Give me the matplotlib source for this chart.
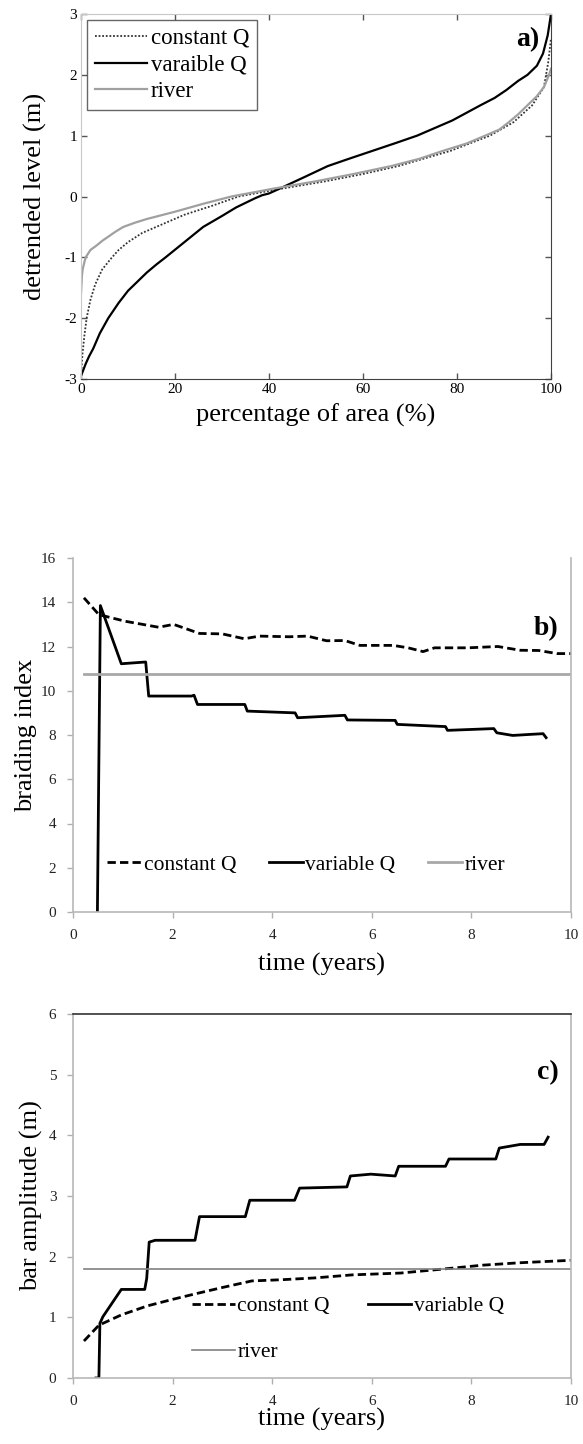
import numpy as np
import matplotlib
matplotlib.use("Agg")
import matplotlib.pyplot as plt

plt.rcParams['font.family'] = ['Liberation Serif', 'DejaVu Serif']
plt.rcParams['axes.unicode_minus'] = False

# a) hypsometric curves: percentage of area vs detrended level
pct_const = [0, 0.3, 0.7, 1.2, 2, 3, 4.5, 6.6, 8, 10, 13, 16, 22, 28, 33.5, 42, 52, 60, 67.5, 78.6, 87, 92, 96, 98.5, 99.4, 100]
lev_const = [-2.95, -2.6, -2.3, -2.0, -1.7, -1.45, -1.2, -1.0, -0.88, -0.75, -0.6, -0.5, -0.3, -0.15, 0.0, 0.12, 0.25, 0.37, 0.5, 0.75, 1.0, 1.22, 1.5, 1.8, 2.2, 2.6]

pct_var = [0, 0.5, 1, 1.7, 2.6, 4, 5.8, 8, 10, 12, 14, 16, 18, 22, 26, 30, 33, 37, 38.5, 40, 42, 47, 52.5, 57,
           62, 67, 71.5, 79, 85, 88, 90.5, 93, 95, 97, 98.3, 99.3, 100]
lev_var = [-2.95, -2.85, -2.75, -2.63, -2.5, -2.25, -2.0, -1.75, -1.55, -1.4, -1.25, -1.12, -1.0, -0.75, -0.5, -0.32,
           -0.18, -0.03, 0.02, 0.05, 0.12, 0.3, 0.5, 0.62, 0.75, 0.88, 1.0, 1.25, 1.5, 1.62, 1.75, 1.9, 2.0, 2.15, 2.35, 2.65, 3.0]

pct_river = [0, 0.1, 0.2, 0.35, 0.5, 0.75, 1.0, 1.5, 2, 2.7, 3.4, 4.5, 6, 7.5, 9, 11.5, 14, 17, 20, 26, 32, 41, 50, 58,
             66, 72, 77, 82, 86, 89, 91, 93, 95, 97, 98.5, 99.6, 100]
lev_river = [-1.6, -1.45, -1.3, -1.2, -1.15, -1.07, -1.0, -0.94, -0.88, -0.84, -0.8, -0.73, -0.65, -0.57, -0.5, -0.43, -0.37,
             -0.31, -0.25, -0.12, 0.0, 0.13, 0.25, 0.37, 0.5, 0.62, 0.75, 0.87, 1.0, 1.1, 1.22, 1.35, 1.5, 1.65, 1.8, 2.0, 2.1]

# b) braiding index over time
t_bi_const = [0.22, 0.52, 1.05, 1.72, 2.02, 2.54, 3.0, 3.44, 3.74, 4.34, 4.71, 5.09, 5.46, 5.76,
              6.43, 6.73, 7.03, 7.26, 7.93, 8.53, 8.98, 9.35, 9.72, 10.0]
bi_const = [14.2, 13.44, 13.14, 12.87, 13.0, 12.59, 12.57, 12.35, 12.47, 12.44, 12.47, 12.26, 12.27, 12.05,
            12.05, 11.94, 11.77, 11.94, 11.94, 12.0, 11.83, 11.82, 11.68, 11.68]

t_bi_var = [0.49, 0.55, 0.97, 1.46, 1.52, 2.38, 2.43, 2.5, 3.45, 3.5, 4.46, 4.51, 5.46, 5.51,
            6.47, 6.51, 7.48, 7.52, 8.45, 8.51, 8.83, 9.2, 9.44, 9.5]
bi_var = [0.0, 13.85, 11.22, 11.3, 9.76, 9.76, 9.8, 9.38, 9.38, 9.08, 9.0, 8.78, 8.89, 8.68,
          8.66, 8.48, 8.38, 8.21, 8.29, 8.1, 7.98, 8.03, 8.06, 7.88]

t_river_b = [0.22, 10.0]
bi_river = [10.74, 10.74]

# c) bar amplitude over time
t_ba_const = [0.22, 0.52, 0.97, 1.5, 2.02, 2.47, 2.99, 3.59, 4.19, 4.86, 5.61, 6.58, 7.48, 8.23, 8.98, 10.0]
ba_const = [0.61, 0.87, 1.04, 1.19, 1.3, 1.39, 1.49, 1.6, 1.62, 1.65, 1.7, 1.73, 1.8, 1.86, 1.9, 1.94]

t_ba_var = [0.46, 0.52, 0.54, 0.6, 0.97, 1.44, 1.48, 1.53, 1.65, 2.45, 2.54, 3.46, 3.55, 4.45, 4.55,
            5.5, 5.57, 5.98, 6.47, 6.54, 7.48, 7.55, 8.49, 8.56, 8.98, 9.46, 9.54]
ba_var = [0.0, 0.0, 0.9, 1.01, 1.46, 1.46, 1.64, 2.24, 2.27, 2.27, 2.66, 2.66, 2.93, 2.93, 3.13,
          3.15, 3.33, 3.36, 3.33, 3.49, 3.49, 3.61, 3.61, 3.79, 3.85, 3.85, 3.97]

t_river_c = [0.22, 10.0]
ba_river = [1.80, 1.80]

W, H = 583, 1444
fig = plt.figure(figsize=(W / 100, H / 100), dpi=100)


def box(l, r, t, b):
    # pixel edges -> figure fraction rect
    return [l / W, 1 - b / H, (r - l) / W, (b - t) / H]


# ---------- panel a ----------
ax = fig.add_axes(box(81, 551, 14, 379))
ax.plot(pct_const, lev_const, color='#333333', lw=1.3, ls=(0, (1, 1)), label='constant Q')
ax.plot(pct_var, lev_var, color='black', lw=1.6, label='varaible Q')
ax.plot(pct_river, lev_river, color='#a0a0a0', lw=1.6, label='river')
ax.set_xlim(0, 100)
ax.set_ylim(-3, 3)
ax.set_xticks([0, 20, 40, 60, 80, 100])
ax.set_yticks([-3, -2, -1, 0, 1, 2, 3])
ax.tick_params(direction='in', top=True, right=True, length=4, width=1, colors='#555555',
               labelcolor='black', labelsize=11, pad=3)
for s in ['top', 'left']:
    ax.spines[s].set_color('#c8c8c8')
for s in ['bottom', 'right']:
    ax.spines[s].set_color('#404040')
ax.set_xlabel('percentage of area (%)', fontsize=19, labelpad=5)
ax.set_ylabel('detrended level (m)', fontsize=19, labelpad=12)
leg = ax.legend(loc='upper left', fontsize=16.5, frameon=True, fancybox=False, handlelength=2.3,
                handletextpad=0.15, borderpad=0.35, labelspacing=0.25, borderaxespad=0.25)
leg.get_frame().set_edgecolor('#404040')
leg.get_frame().set_linewidth(1)
ax.text(0.975, 0.93, 'a)', transform=ax.transAxes, ha='right', va='center',
        fontsize=20, fontweight='bold')


def excel_axes(ax, top_spine):
    ax.set_xlim(0, 10)
    ax.set_xticks([0, 2, 4, 6, 8, 10])
    ax.tick_params(direction='out', length=4, width=1, colors='#b0b0b0',
                   labelcolor='#222222', labelsize=11, pad=8)
    for s in ['left', 'right', 'bottom']:
        ax.spines[s].set_color('#b8b8b8')
        ax.spines[s].set_linewidth(1.2)
    if top_spine:
        ax.spines['top'].set_color('#333333')
        ax.spines['top'].set_linewidth(1.2)
    else:
        ax.spines['top'].set_visible(False)


# ---------- panel b ----------
ax = fig.add_axes(box(73, 571, 558, 912))
ax.plot(t_bi_const, bi_const, color='black', lw=2, ls=(0, (3, 1.5)), label='constant Q')
ax.plot(t_bi_var, bi_var, color='black', lw=2, label='variable Q')
ax.plot(t_river_b, bi_river, color='#a8a8a8', lw=2, label='river')
ax.set_ylim(0, 16)
ax.set_yticks(range(0, 17, 2))
excel_axes(ax, top_spine=False)
ax.set_xlabel('time (years)', fontsize=19, labelpad=8)
ax.set_ylabel('braiding index', fontsize=19, labelpad=3)
ax.legend(loc='lower left', bbox_to_anchor=(0.03, 0.05), ncol=3, fontsize=15.5, frameon=False,
          handlelength=1.6, handletextpad=0.1, columnspacing=1.5)
ax.text(0.975, 0.80, 'b)', transform=ax.transAxes, ha='right', va='center',
        fontsize=20, fontweight='bold')

# ---------- panel c ----------
ax = fig.add_axes(box(73, 571, 1014, 1378))
h_const, = ax.plot(t_ba_const, ba_const, color='black', lw=2, ls=(0, (3, 1.5)), label='constant Q')
h_var, = ax.plot(t_ba_var, ba_var, color='black', lw=2, label='variable Q')
h_river, = ax.plot(t_river_c, ba_river, color='#808080', lw=1.2, label='river')
ax.set_ylim(0, 6)
ax.set_yticks(range(0, 7))
excel_axes(ax, top_spine=True)
ax.set_xlabel('time (years)', fontsize=19, labelpad=0)
ax.set_ylabel('bar amplitude (m)', fontsize=19, labelpad=4)
# column-major fill: constant/river in column 1, variable in column 2
ax.legend([h_const, h_river, h_var], ['constant Q', 'river', 'variable Q'],
          loc='lower left', bbox_to_anchor=(0.2, -0.01), ncol=2, fontsize=15.5, frameon=False,
          handlelength=2.0, handletextpad=0.1, columnspacing=1.8, labelspacing=1.2)
ax.text(0.975, 0.84, 'c)', transform=ax.transAxes, ha='right', va='center',
        fontsize=20, fontweight='bold')

fig.savefig('out.png', dpi=100)
